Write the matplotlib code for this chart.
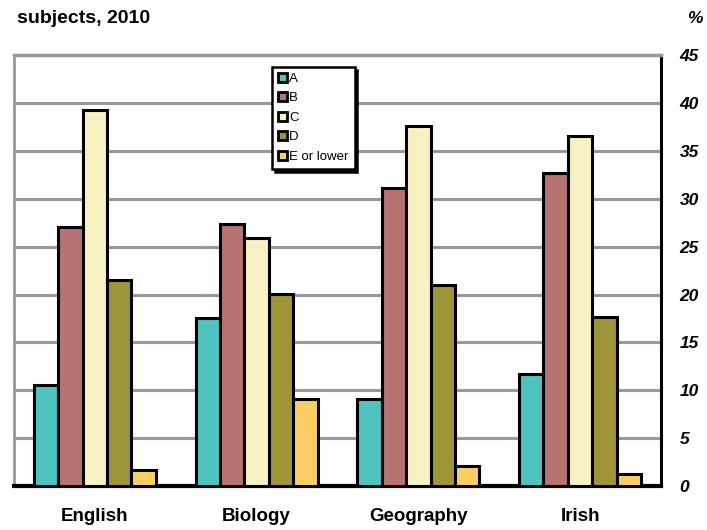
import numpy as np
import matplotlib
matplotlib.use('Agg')
import matplotlib.pyplot as plt

subjects = ['English', 'Biology', 'Geography', 'Irish']
grades = ['A', 'B', 'C', 'D', 'E or lower']
grade_a = [10.5, 17.5, 9.1, 11.7]
grade_b = [27.0, 27.4, 31.1, 32.7]
grade_c = [39.3, 25.9, 37.6, 36.6]
grade_d = [21.5, 20.1, 21.0, 17.6]
grade_e = [1.7, 9.1, 2.1, 1.3]
yticks = [0, 5, 10, 15, 20, 25, 30, 35, 40, 45]

colors = ['#4FC3C0', '#B57371', '#F8F1C3', '#A09438', '#FBCD63']

plt.rcParams['font.family'] = ['Liberation Sans', 'DejaVu Sans']

fig = plt.figure(figsize=(7.07, 5.30), dpi=100)
ax = fig.add_axes([0.0198, 0.083, 0.915, 0.813])

x = np.arange(len(subjects)) + 0.5
width = 0.151
series = [grade_a, grade_b, grade_c, grade_d, grade_e]
for i, vals in enumerate(series):
    ax.bar(x + (i - 2) * width, vals, width=width, color=colors[i],
           edgecolor='black', linewidth=2.2, label=grades[i], zorder=3)

ax.set_xlim(0, 4)
ax.set_ylim(0, 45)
ax.set_yticks(yticks)
ax.yaxis.tick_right()
ax.tick_params(axis='y', length=0, pad=13.5)
ax.tick_params(axis='x', length=0, pad=16)
ax.set_xticks(x)
ax.set_xticklabels(subjects, fontsize=13.5, fontweight='bold')
for lab in ax.get_yticklabels():
    lab.set_fontsize(12.5)
    lab.set_fontweight('bold')
    lab.set_fontstyle('italic')

ax.grid(axis='y', color='#999999', linewidth=2.2, zorder=0)
ax.set_axisbelow(True)
ax.spines['top'].set_color('#999999')
ax.spines['top'].set_linewidth(2.5)
ax.spines['left'].set_color('#999999')
ax.spines['left'].set_linewidth(2)
ax.spines['right'].set_color('black')
ax.spines['right'].set_linewidth(2.2)
ax.spines['bottom'].set_color('black')
ax.spines['bottom'].set_linewidth(3)

fig.text(0.024, 0.965, 'subjects, 2010', fontsize=14, fontweight='bold',
         ha='left', va='center')
fig.text(0.972, 0.965, '%', fontsize=12.5, fontweight='bold',
         fontstyle='italic', ha='left', va='center')

leg = ax.legend(loc='upper left', bbox_to_anchor=(0.385, 0.874),
                bbox_transform=fig.transFigure, fontsize=9.5, frameon=True,
                fancybox=False, shadow={'color': 'black', 'alpha': 1},
                handlelength=0.7, handleheight=0.7, handletextpad=0.15,
                labelspacing=0.55, borderpad=0.45, borderaxespad=0)
leg.get_frame().set_edgecolor('black')
leg.get_frame().set_linewidth(1.8)
for h in leg.legend_handles:
    h.set_linewidth(2)

# widen the legend box to the right like the reference
fig.canvas.draw()
bb = leg.get_frame().get_bbox()
leg.get_frame().set_width(bb.width + 16)

plt.savefig('out.png', dpi=100)
